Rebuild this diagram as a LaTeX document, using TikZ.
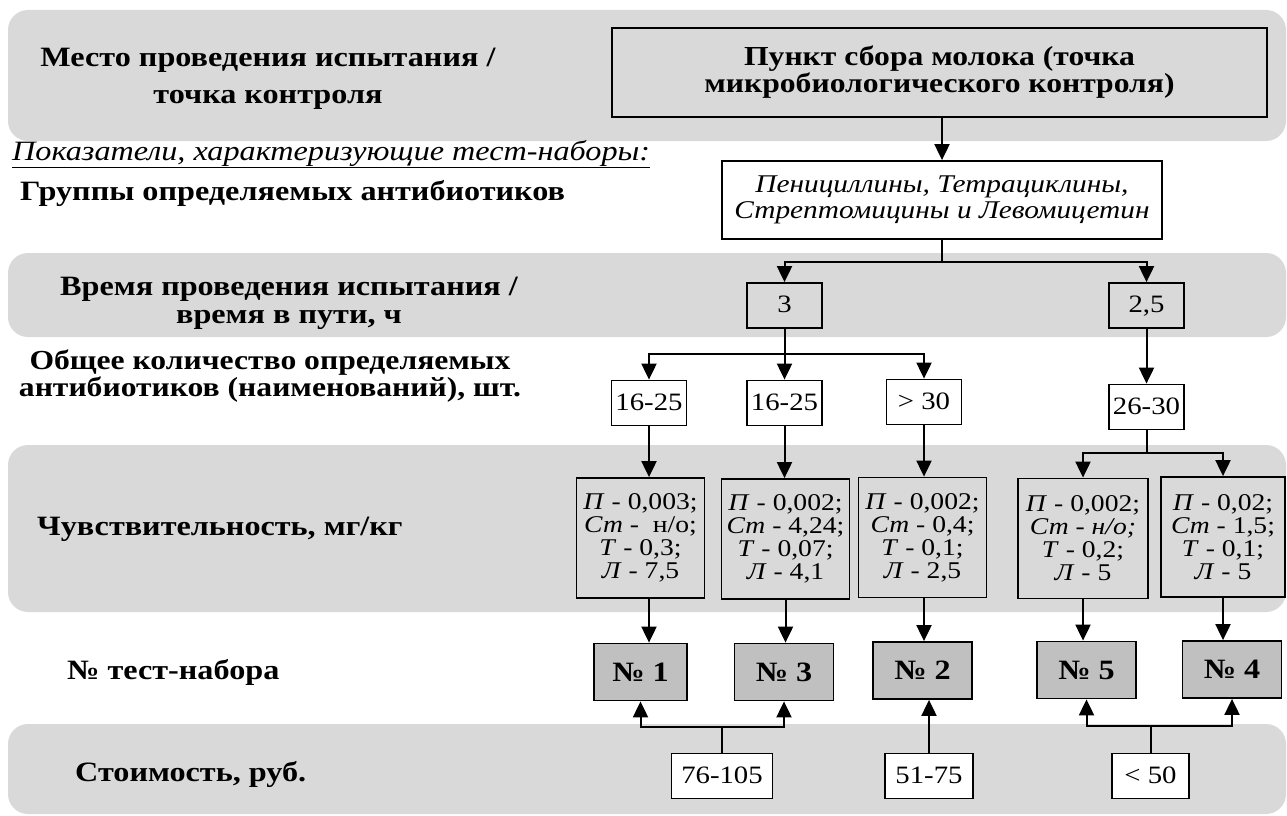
\documentclass[tikz,border=0pt]{standalone}
\usepackage{fontspec}
\setmainfont{Liberation Serif}[FakeStretch=1.15]
\usetikzlibrary{arrows.meta}

\definecolor{band}{RGB}{217,217,217}
\definecolor{numfill}{RGB}{192,192,192}

\tikzset{
  lbl/.style={font=\fontsize{28}{37}\selectfont\bfseries, align=center, inner sep=0pt},
  box/.style={draw, line width=1.8pt, inner sep=0pt, align=center},
  smallbox/.style={box, fill=white, minimum width=75pt, minimum height=45pt,
    text height=17pt, text depth=3pt, font=\fontsize{25}{26}\selectfont},
  sensbox/.style={box, minimum width=128pt, minimum height=120pt, font=\fontsize{24}{23}\selectfont},
  numbox/.style={box, fill=numfill, minimum width=99pt, minimum height=57pt, font=\fontsize{28}{30}\selectfont\bfseries},
  ln/.style={line width=2pt},
  arr/.style={line width=2pt, -{Triangle[length=16pt,width=15pt]}}
}

\begin{document}
\begin{tikzpicture}[x=1pt,y=-1pt]
\useasboundingbox (0,0) rectangle (1287,816);

% Gray background bands
\fill[band, rounded corners=20pt] (8,10) rectangle (1286,141);
\fill[band, rounded corners=20pt] (8,253) rectangle (1286,337);
\fill[band, rounded corners=20pt] (8,445) rectangle (1286,612);
\fill[band, rounded corners=20pt] (8,724) rectangle (1286,814);

% Row captions
\node[lbl] (placelbl) at (268,79) {Место проведения испытания /\\точка контроля};
\node[anchor=base west, inner sep=0pt, font=\fontsize{28}{30}\selectfont\itshape] (indlbl) at (12,160)
  {\underline{Показатели, характеризующие тест-наборы:}};
\node[lbl, anchor=base west] (grplbl) at (20,200) {Группы определяемых антибиотиков};
\node[lbl, font=\fontsize{28}{28}\selectfont\bfseries] (timelbl) at (289,303) {Время проведения испытания /\\время в пути, ч};
\node[lbl, font=\fontsize{27.5}{27.5}\selectfont\bfseries] (countlbl) at (270,376) {Общее количество определяемых\\антибиотиков (наименований), шт.};
\node[lbl, anchor=base west] (senslbl) at (37,535) {Чувствительность, мг/кг};
\node[lbl, anchor=base west] (numlbl) at (67,679) {№ тест-набора};
\node[lbl, anchor=base west] (costlbl) at (75,781) {Стоимость, руб.};

% Control point and antibiotic groups
\node[box, fill=band, minimum width=655pt, minimum height=89pt,
  font=\fontsize{27.5}{27}\selectfont\bfseries] (punkt) at (939.5,72.5)
  {Пункт сбора молока (точка\\микробиологического контроля)};
\node[box, fill=white, minimum width=440pt, minimum height=78pt,
  font=\fontsize{25.5}{25.5}\selectfont\itshape] (grp) at (942,200)
  {Пенициллины, Тетрациклины,\\Стрептомицины и Левомицетин};

% Time
\node[smallbox, fill=none] (t3) at (784.5,305.5) {3};
\node[smallbox, fill=none] (t25) at (1146.5,305.5) {2,5};

% Number of antibiotics
\node[smallbox] (q1) at (649,403) {16-25};
\node[smallbox] (q2) at (784.5,403) {16-25};
\node[smallbox] (q3) at (924,402) {> 30};
\node[smallbox] (q4) at (1146.5,407) {26-30};

% Sensitivity
\node[sensbox] (s1) at (640.5,538) {\textit{П} - 0,003;\\\textit{Ст} -\ \ н/о;\\\textit{Т} - 0,3;\\\textit{Л} - 7,5};
\node[sensbox] (s2) at (785.5,539) {\textit{П} - 0,002;\\\textit{Ст} - 4,24;\\\textit{Т} - 0,07;\\\textit{Л} - 4,1};
\node[sensbox] (s3) at (922.5,537.5) {\textit{П} - 0,002;\\\textit{Ст} - 0,4;\\\textit{Т} - 0,1;\\\textit{Л} - 2,5};
\node[sensbox, minimum width=130pt] (s4) at (1083,538.5) {\textit{П} - 0,002;\\\textit{Ст - н/о;}\\\textit{Т} - 0,2;\\\textit{Л} - 5};
\node[sensbox, minimum width=124pt] (s5) at (1223,537) {\textit{П} - 0,02;\\\textit{Ст} - 1,5;\\\textit{Т} - 0,1;\\\textit{Л} - 5};

% Test kits
\node[numbox, minimum width=93pt] (n1) at (640.5,672) {№ 1};
\node[numbox] (n3) at (784,672) {№ 3};
\node[numbox] (n2) at (922.5,670.5) {№ 2};
\node[numbox] (n5) at (1086.5,670) {№ 5};
\node[numbox] (n4) at (1232,669.5) {№ 4};

% Cost
\node[smallbox, minimum width=101pt] (c1) at (722,776) {76-105};
\node[smallbox, minimum width=88pt] (c2) at (929,776) {51-75};
\node[smallbox, minimum width=77pt] (c3) at (1150.5,776) {< 50};

% Junctions
\coordinate (j1) at (942,262);
\coordinate (j2) at (784.5,354);
\coordinate (j3) at (1146.5,453);
\coordinate (j4) at (722,727);
\coordinate (j5) at (1150.5,726);

% Connectors, top to bottom
\draw[arr] (punkt.south -| grp.north) -- (grp.north);
\draw[ln] (grp.south) -- (j1);
\draw[arr] (j1) -| (t3.north);
\draw[arr] (j1) -| (t25.north);
\draw[ln] (t3.south) -- (j2);
\draw[arr] (j2) -| (q1.north);
\draw[arr] (j2) -- (q2.north);
\draw[arr] (j2) -| (q3.north);
\draw[arr] (t25.south) -- (q4.north);
\draw[arr] (q1.south) -- (q1.south |- s1.north);
\draw[arr] (q2.south) -- (q2.south |- s2.north);
\draw[arr] (q3.south) -- (q3.south |- s3.north);
\draw[ln] (q4.south) -- (j3);
\draw[arr] (j3) -| (s4.north);
\draw[arr] (j3) -| (s5.north);
\draw[arr] (q1.south |- s1.south) -- (q1.south |- n1.north);
\draw[arr] (s2.south) -- (s2.south |- n3.north);
\draw[arr] (q3.south |- s3.south) -- (q3.south |- n2.north);
\draw[arr] (s4.south) -- (s4.south |- n5.north);
\draw[arr] (s5.south) -- (s5.south |- n4.north);

% Cost to kits
\draw[ln] (c1.north) -- (j4);
\draw[arr] (j4) -| (n1.south);
\draw[arr] (j4) -| (n3.south);
\draw[arr] (c2.north) -- (c2.north |- n2.south);
\draw[ln] (c3.north) -- (j5);
\draw[arr] (j5) -| (n5.south);
\draw[arr] (j5) -| (n4.south);

\end{tikzpicture}
\end{document}
